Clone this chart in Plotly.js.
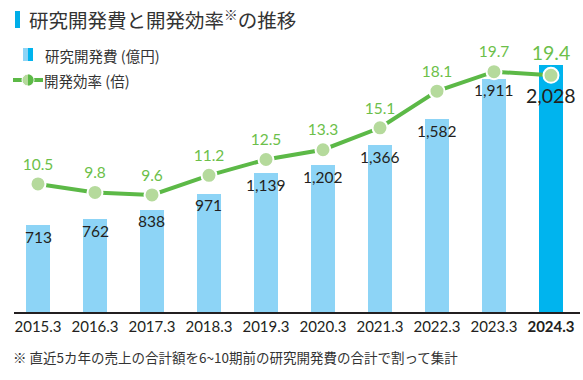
<!DOCTYPE html>
<html>
<head>
<meta charset="utf-8">
<script src="https://cdn.plot.ly/plotly-3.0.1.min.js"></script>
<style>html,body{margin:0;padding:0;background:#fff;}#chart{width:583px;height:380px;}</style>
</head>
<body>
<div id="chart"></div>
<script>
const years = ["2015.3","2016.3","2017.3","2018.3","2019.3","2020.3","2021.3","2022.3","2023.3","2024.3"];
const rdCost = [713, 762, 838, 971, 1139, 1202, 1366, 1582, 1911, 2028];
const efficiency = [10.5, 9.8, 9.6, 11.2, 12.5, 13.3, 15.1, 18.1, 19.7, 19.4];
const tickText = ["2015.3","2016.3","2017.3","2018.3","2019.3","2020.3","2021.3","2022.3","2023.3","<b>2024.3</b>"];
const titleText = "研究開発費と開発効率<sup>※</sup>の推移";
const legendBar = "研究開発費 (億円)";
const legendLine = "開発効率 (倍)";
const footnote = "※ 直近5カ年の売上の合計額を6~10期前の研究開発費の合計で割って集計";

const W = 583, H = 380;
const L = 14, R = 580, T = 40, B = 312;
const px = v => (v - L) / (R - L);
const py = v => (B - v) / (B - T);

const JP = "'Noto Sans CJK JP', 'Noto Sans', sans-serif";
const NUM = "Lato, 'Noto Sans', sans-serif";

const idx = years.map((_, i) => i);
const last = years.length - 1;
const barColors = years.map((_, i) => i === last ? "#00b4ee" : "#8dd4f6");
const fmt = v => v.toLocaleString("en-US");

const traces = [
  {
    type: "bar", x: idx, y: rdCost, width: 0.421,
    marker: {color: barColors, line: {width: 0}},
    hoverinfo: "none", showlegend: false
  },
  {
    type: "scatter", mode: "lines+markers+text", x: idx, y: efficiency, yaxis: "y2",
    line: {color: "#5cb947", width: 4},
    marker: {size: 15, color: "#b5da9c", line: {color: "#ffffff", width: 2}},
    text: efficiency.map(v => v.toFixed(1)), textposition: "top center",
    textfont: {family: NUM, size: years.map((_, i) => i === last ? 19.5 : 15.5), color: "#6cbf4a"},
    hoverinfo: "none", showlegend: false, cliponaxis: false
  }
];

const yMax = (B - T) / 0.122;

const barLabels = rdCost.map((v, i) => ({
  x: i, y: v, xref: "x", yref: "y", showarrow: false,
  xanchor: "center", yanchor: "middle",
  yshift: i === last ? -30.5 : -11.5,
  text: fmt(v),
  font: {family: NUM, size: i === last ? 19.5 : 15.5, color: "#231f20"}
}));

const layout = {
  width: W, height: H,
  margin: {l: L, r: W - R, t: T, b: H - B, pad: 0},
  paper_bgcolor: "#ffffff", plot_bgcolor: "#ffffff",
  showlegend: false,
  bargap: 0,
  xaxis: {
    range: [-0.421, 9.509], tickvals: idx, ticktext: tickText,
    showgrid: false, zeroline: false, showline: true, linecolor: "#231f20", linewidth: 2,
    ticks: "", tickfont: {family: NUM, size: 15, color: "#231f20"},
    fixedrange: true
  },
  yaxis: {range: [0, yMax], visible: false, fixedrange: true},
  yaxis2: {range: [0, yMax / 100], overlaying: "y", visible: false, fixedrange: true},
  shapes: [
    {type: "rect", xref: "paper", yref: "paper", x0: px(15), x1: px(20), y0: py(11), y1: py(28), fillcolor: "#00aee8", line: {width: 0}},
    {type: "rect", xref: "paper", yref: "paper", x0: px(23), x1: px(28), y0: py(48), y1: py(61), fillcolor: "#8dd4f6", line: {width: 0}},
    {type: "rect", xref: "paper", yref: "paper", x0: px(28), x1: px(33), y0: py(48), y1: py(61), fillcolor: "#00b4ee", line: {width: 0}},
    {type: "line", xref: "paper", yref: "paper", x0: px(13), x1: px(43), y0: py(80), y1: py(80), line: {color: "#5cb947", width: 4}},
    {type: "circle", xref: "paper", yref: "paper", x0: px(22), x1: px(34), y0: py(74), y1: py(86), fillcolor: "#b5da9c", line: {color: "#ffffff", width: 1}},
    {type: "path", xref: "paper", yref: "paper", path: "", fillcolor: "#5cb947", line: {width: 0}}
  ],
  annotations: [
    {xref: "paper", yref: "paper", x: px(27), y: py(19), xanchor: "left", yanchor: "middle", showarrow: false,
     text: titleText, font: {family: JP, size: 19.5, color: "#333333"}},
    {xref: "paper", yref: "paper", x: px(43), y: py(55), xanchor: "left", yanchor: "middle", showarrow: false,
     text: legendBar, font: {family: JP, size: 14.5, color: "#333333"}},
    {xref: "paper", yref: "paper", x: px(42), y: py(80), xanchor: "left", yanchor: "middle", showarrow: false,
     text: legendLine, font: {family: JP, size: 14.5, color: "#333333"}},
    {xref: "paper", yref: "paper", x: px(11), y: py(357), xanchor: "left", yanchor: "middle", showarrow: false,
     text: footnote, font: {family: JP, size: 13.5, color: "#333333"}}
  ].concat(barLabels)
};

(function () {
  const cx = 28, cy = 80, r = 5.5, k = 1.333 * r;
  const pts = [[cx, cy - r], [cx + k, cy - r], [cx + k, cy + r], [cx, cy + r]].map(p => [px(p[0]), py(p[1])]);
  layout.shapes[5].path = `M ${pts[0][0]},${pts[0][1]} C ${pts[1][0]},${pts[1][1]} ${pts[2][0]},${pts[2][1]} ${pts[3][0]},${pts[3][1]} Z`;
})();

Plotly.newPlot("chart", traces, layout, {displayModeBar: false, staticPlot: true});
</script>
</body>
</html>
